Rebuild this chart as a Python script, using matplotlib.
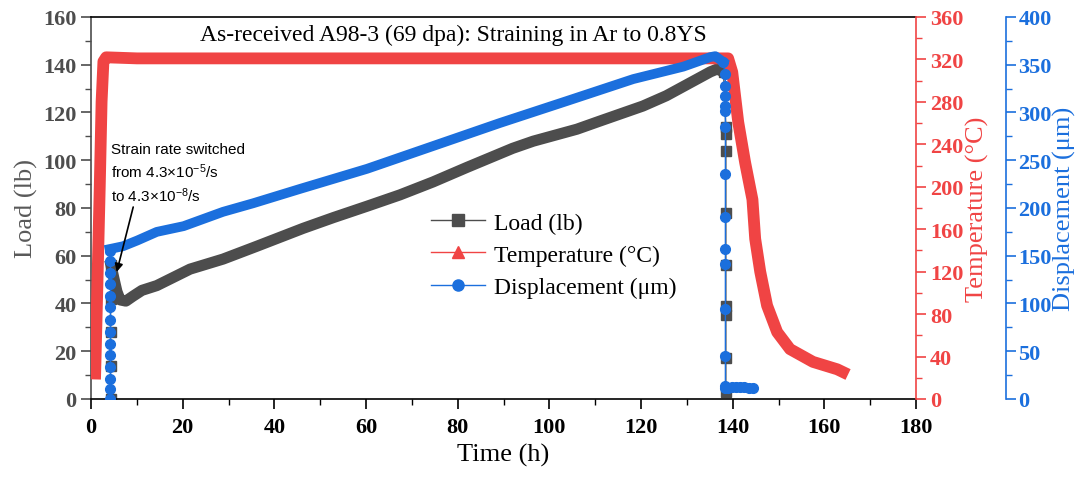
import matplotlib
matplotlib.use('Agg')
import matplotlib.pyplot as plt
from matplotlib.lines import Line2D
from matplotlib.ticker import MultipleLocator

plt.rcParams['font.family'] = ['Liberation Serif', 'DejaVu Serif']
plt.rcParams['mathtext.fontset'] = 'custom'
plt.rcParams['mathtext.rm'] = 'Liberation Sans'
plt.rcParams['mathtext.it'] = 'Liberation Sans:italic'

GRAY = '#4d4d4d'
RED = '#f04444'
BLUE = '#1b6fdd'

# Load (lb) vs time (h)
load_rise_t = [4.25, 4.25, 4.25, 4.25, 4.35]
load_rise_lb = [0, 14, 28, 42, 56]
load_t = [4.35, 5.05, 5.65, 6.35, 7.6, 9.1, 11.1, 14.35, 21.6, 28.8, 36.2, 46.3,
          52.9, 60.3, 67.4, 74.6, 82.0, 92.0, 96.5, 106.0, 111.0, 120.4, 125.5,
          135.1, 136.6, 138.0]
load_lb = [56, 50, 45, 41.5, 41, 43, 45.5, 47.5, 54.4, 58.6, 64, 71.5,
           76, 80.8, 85.5, 90.9, 97, 105, 108, 113, 116.4, 122.7, 127,
           137, 138.2, 137]
load_drop_t = [138.0, 138.5, 138.5, 138.5, 138.5, 138.5, 138.5, 138.5, 138.5, 138.5]
load_drop_lb = [137, 114, 111, 104, 78, 56, 39, 35, 17, 3]

# Temperature (°C) vs time (h)
temp_t = [0.9, 1.4, 1.9, 2.3, 2.7, 3.3, 10, 60, 120, 139.0, 139.9, 141.2,
          142.7, 144.3, 144.9, 146.0, 147.5, 149.7, 152.5, 157.5, 162.8, 164.0]
temp_c = [24, 110, 200, 280, 318, 322, 321, 321, 321, 321, 308, 261,
          223, 188, 151, 120, 88, 63, 47, 35, 28, 25.5]

# Displacement (um) vs time (h)
disp_rise_t = [4.05] * 14
disp_rise_um = [0, 10, 21, 33, 46, 58, 70, 83, 96, 108, 120, 132, 144, 155]
disp_t = [4.05, 5.05, 7.0, 10.1, 14.35, 20.2, 28.8, 35.4, 45.6, 60.2, 74.7,
          89.2, 103.8, 118.3, 129.2, 135.1, 136.2, 137.9]
disp_um = [157, 158, 160, 166, 175, 181, 196, 205, 220, 241, 265,
           289, 312, 335, 348, 358, 359, 353]
disp_drop_t = [137.9, 138.4, 138.4, 138.4, 138.4, 138.4, 138.4, 138.4, 138.4,
               138.4, 138.4, 138.4, 138.4, 138.4]
disp_drop_um = [353, 340, 328, 317, 307, 302, 285, 236, 191, 157, 141, 94, 45, 14]
disp_end_t = [138.4, 139.0, 139.8, 140.7, 141.6, 142.5, 143.5, 144.5]
disp_end_um = [12, 12, 12.5, 13, 13, 12.5, 12, 12]

title = 'As-received A98-3 (69 dpa): Straining in Ar to 0.8YS'
note = 'Strain rate switched\nfrom 4.3×10$^{-5}$/s\nto 4.3×10$^{-8}$/s'

fig = plt.figure(figsize=(10.8, 4.81), dpi=100)
ax1 = fig.add_axes([0.0843, 0.1684, 0.7639, 0.7942])
ax2 = ax1.twinx()
ax3 = ax1.twinx()

# load
ax1.plot(load_rise_t, load_rise_lb, color=GRAY, lw=1, marker='s', ms=7)
ax1.plot(load_t, load_lb, color=GRAY, lw=8, solid_joinstyle='round')
ax1.plot(load_drop_t, load_drop_lb, color=GRAY, lw=1, marker='s', ms=7)

# temperature
ax2.plot(temp_t, temp_c, color=RED, lw=8.5, solid_joinstyle='round')

# displacement
ax3.plot(disp_rise_t, disp_rise_um, color=BLUE, lw=1, marker='o', ms=7)
ax3.plot(disp_t, disp_um, color=BLUE, lw=7, solid_joinstyle='round')
ax3.plot(disp_drop_t, disp_drop_um, color=BLUE, lw=1, marker='o', ms=7)
ax3.plot(disp_end_t, disp_end_um, color=BLUE, lw=1, marker='o', ms=7)

ax1.set_xlim(0, 180)
ax1.set_ylim(0, 160)
ax2.set_ylim(0, 360)
ax3.set_ylim(0, 400)

# spines
for s in ('top', 'bottom'):
    ax1.spines[s].set_color('black')
    ax1.spines[s].set_linewidth(1.2)
ax1.spines['left'].set_color(GRAY)
ax1.spines['left'].set_linewidth(1.2)
ax1.spines['right'].set_visible(False)
for s in ('top', 'bottom', 'left'):
    ax2.spines[s].set_visible(False)
    ax3.spines[s].set_visible(False)
ax2.spines['right'].set_color(RED)
ax2.spines['right'].set_linewidth(1.2)
ax3.spines['right'].set_position(('axes', 1.109))
ax3.spines['right'].set_color(BLUE)
ax3.spines['right'].set_linewidth(1.2)

ax1.xaxis.set_major_locator(MultipleLocator(20))
ax1.xaxis.set_minor_locator(MultipleLocator(10))
ax1.yaxis.set_major_locator(MultipleLocator(20))
ax1.yaxis.set_minor_locator(MultipleLocator(10))
ax2.yaxis.set_major_locator(MultipleLocator(40))
ax2.yaxis.set_minor_locator(MultipleLocator(20))
ax3.yaxis.set_major_locator(MultipleLocator(50))
ax3.yaxis.set_minor_locator(MultipleLocator(25))

for ax in (ax1, ax2, ax3):
    ax.tick_params(which='major', direction='out', length=7, width=1.2, labelsize=16)
    ax.tick_params(which='minor', direction='out', length=4, width=1.0)

ax1.tick_params(axis='y', which='both', colors=GRAY)
ax1.tick_params(axis='x', which='both', colors='black', pad=6)
ax2.tick_params(axis='y', which='both', colors=RED, pad=3)
ax3.tick_params(axis='y', which='both', colors=BLUE, pad=2)

for ax in (ax1, ax2, ax3):
    for lab in ax.get_yticklabels() + ax.get_xticklabels():
        lab.set_fontweight('bold')

ax1.set_xlabel('Time (h)', fontsize=19, labelpad=4)
ax1.set_ylabel('Load (lb)', fontsize=19, color='#595959', labelpad=4)
ax2.set_ylabel('Temperature (°C)', fontsize=19, color=RED, labelpad=2)
ax3.set_ylabel('Displacement (μm)', fontsize=19, color=BLUE, labelpad=1)

ax1.text(0.439, 0.955, title, transform=ax1.transAxes, ha='center', va='center',
         fontsize=17)

ax3.text(4.3 / 180, 107.5 / 160, note, transform=ax1.transAxes, ha='left', va='top',
         fontsize=11, family=['Liberation Sans', 'DejaVu Sans'], linespacing=1.35)
ax3.annotate('', xy=(5.6 / 180, 53.2 / 160), xytext=(9.2 / 180, 80.4 / 160),
             xycoords=ax1.transAxes, textcoords=ax1.transAxes,
             arrowprops=dict(arrowstyle='-|>', color='black', lw=1.2,
                             mutation_scale=12, shrinkA=0, shrinkB=0))

handles = [
    Line2D([], [], color=GRAY, lw=1, marker='s', ms=8),
    Line2D([], [], color=RED, lw=1, marker='^', ms=8),
    Line2D([], [], color=BLUE, lw=1, marker='o', ms=8),
]
labels = ['Load (lb)', 'Temperature (°C)', 'Displacement (μm)']
ax3.legend(handles, labels, loc='upper left', bbox_to_anchor=(0.386, 0.545),
           bbox_transform=ax1.transAxes, frameon=False, fontsize=17,
           handlelength=2.3, labelspacing=0.45, handletextpad=0.4)

fig.savefig('out.png', dpi=100)
